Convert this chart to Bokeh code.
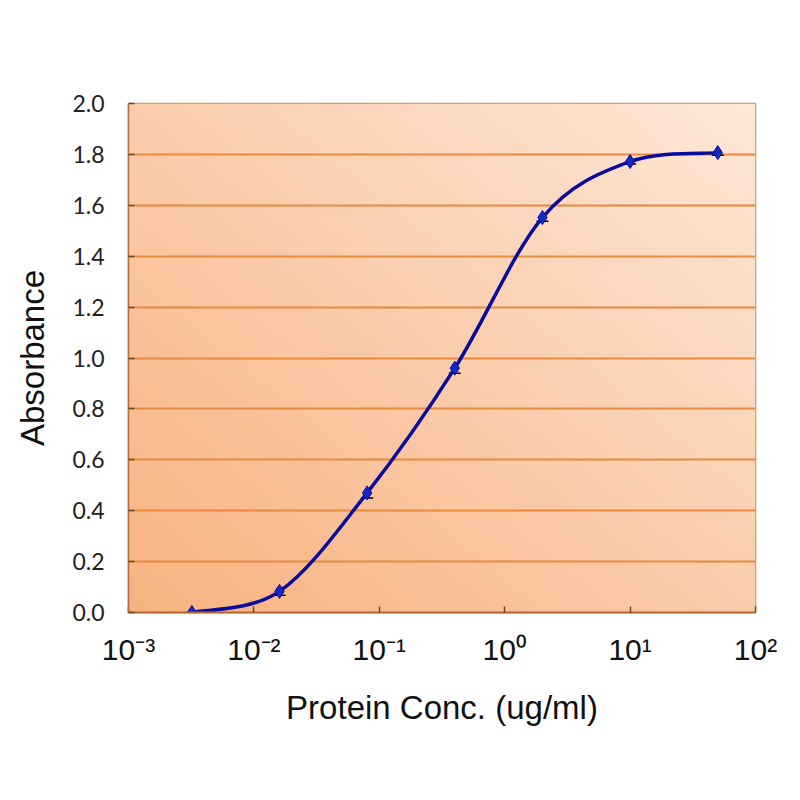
import numpy as np
from bokeh.plotting import figure
from bokeh.models import (FixedTicker, CustomJSTickFormatter, PrintfTickFormatter,
                          ColumnDataSource, Whisker, TeeHead, Range1d)
from bokeh.embed import file_html
from bokeh.resources import INLINE

# ---- data ----
conc = [0.0032, 0.016, 0.08, 0.4, 2.0, 10.0, 50.0]
absorbance = [0.000, 0.083, 0.470, 0.960, 1.552, 1.772, 1.807]
error = [0.0, 0.015, 0.02, 0.02, 0.015, 0.01, 0.01]
x_ticks = [1e-3, 1e-2, 1e-1, 1e0, 1e1, 1e2]
y_ticks = [0.0, 0.2, 0.4, 0.6, 0.8, 1.0, 1.2, 1.4, 1.6, 1.8, 2.0]
x_title = "Protein Conc. (ug/ml)"
y_title = "Absorbance"

p = figure(width=784, height=784, x_axis_type="log",
           x_range=Range1d(1e-3, 1e2), y_range=Range1d(0, 2),
           output_backend="svg", toolbar_location=None,
           min_border_left=128, min_border_right=29,
           min_border_top=103, min_border_bottom=172)
p.background_fill_color = "white"
p.border_fill_color = "white"

# ---- gradient background of the plot area ----
H, W = 200, 300
u = np.linspace(0, 1, W)[None, :]
v = np.linspace(0, 1, H)[:, None]
t = (u + v) / 2.0
c0 = np.array([248, 178, 128], dtype=float)
c1 = np.array([254, 232, 216], dtype=float)
rgb = c0 + (c1 - c0) * t[..., None]
img = np.empty((H, W), dtype=np.uint32)
view = img.view(dtype=np.uint8).reshape((H, W, 4))
view[..., 0:3] = rgb.astype(np.uint8)
view[..., 3] = 255
bg = p.image_rgba(image=[img], x=x_ticks[0], y=y_ticks[0],
                  dw=x_ticks[-1] - x_ticks[0], dh=y_ticks[-1] - y_ticks[0])
bg.level = "image"

# ---- smoothed curve (bezier segments through data points) ----
lx = np.log10(np.array(conc))
ya = np.array(absorbance)
n = len(conc)
x0s, y0s, x1s, y1s, cx0s, cy0s, cx1s, cy1s = [], [], [], [], [], [], [], []
for i in range(n - 1):
    pv = max(i - 1, 0)
    nx = min(i + 2, n - 1)
    x0s.append(conc[i]); y0s.append(absorbance[i])
    x1s.append(conc[i + 1]); y1s.append(absorbance[i + 1])
    cx0s.append(10 ** (lx[i] + (lx[i + 1] - lx[pv]) / 6.0))
    cy0s.append(ya[i] + (ya[i + 1] - ya[pv]) / 6.0)
    cx1s.append(10 ** (lx[i + 1] - (lx[nx] - lx[i]) / 6.0))
    cy1s.append(ya[i + 1] - (ya[nx] - ya[i]) / 6.0)
p.bezier(x0=x0s, y0=y0s, x1=x1s, y1=y1s, cx0=cx0s, cy0=cy0s,
         cx1=cx1s, cy1=cy1s, line_color="#0A0A9C", line_width=3.5)

# ---- error bars ----
src = ColumnDataSource(data=dict(
    x=conc, y=absorbance,
    lower=[a - e for a, e in zip(absorbance, error)],
    upper=absorbance))
wh = Whisker(base="x", lower="lower", upper="upper", dimension="height",
             source=src, line_color="black", line_width=1.2,
             upper_head=None,
             lower_head=TeeHead(size=12, line_color="black", line_width=1.5))
p.add_layout(wh)

p.scatter("x", "y", source=src, marker="diamond", size=14,
          fill_color="#1428C8", line_color="#0A0A9C")

# ---- axes ----
p.xaxis.ticker = FixedTicker(ticks=x_ticks, minor_ticks=[])
p.xaxis.formatter = CustomJSTickFormatter(code="""
const e = Math.round(Math.log10(tick));
const m = {"-": "\u207B", "0": "\u2070", "1": "\u00B9", "2": "\u00B2", "3": "\u00B3"};
return "10" + String(e).split("").map(c => m[c]).join("");
""")
p.yaxis.ticker = FixedTicker(ticks=y_ticks, minor_ticks=[])
p.yaxis.formatter = PrintfTickFormatter(format="%.1f")

for ax in (p.xaxis, p.yaxis):
    ax.minor_tick_line_color = None
    ax.major_tick_out = 0
    ax.major_tick_in = 6
    ax.major_tick_line_color = "#6B4A30"
    ax.major_tick_line_width = 1.5
    ax.axis_label_text_font = "Liberation Sans"
    ax.axis_label_text_font_style = "normal"
    ax.axis_label_text_font_size = "33px"
    ax.axis_label_text_color = "#111111"

p.xaxis.axis_label = x_title
p.yaxis.axis_label = y_title
p.xaxis.major_label_text_font = "Liberation Sans"
p.xaxis.major_label_text_font_size = "30px"
p.xaxis.major_label_text_color = "#111111"
p.xaxis.major_label_standoff = 20
p.xaxis.axis_label_standoff = 20
p.yaxis.major_label_text_font = "Lato"
p.yaxis.major_label_text_font_size = "23px"
p.yaxis.major_label_text_color = "#222222"
p.yaxis.major_label_standoff = 24
p.yaxis.axis_label_standoff = 18

p.xaxis.axis_line_color = "#B8682E"
p.xaxis.axis_line_width = 2
p.yaxis.axis_line_color = "#B07048"
p.yaxis.axis_line_width = 1.5

p.xgrid.grid_line_color = None
p.ygrid.grid_line_color = "#E8893E"
p.ygrid.grid_line_width = 2

p.outline_line_color = "#D48A48"
p.outline_line_width = 1.5

with open("out.html", "w", encoding="utf-8") as f:
    f.write(file_html(p, INLINE))
